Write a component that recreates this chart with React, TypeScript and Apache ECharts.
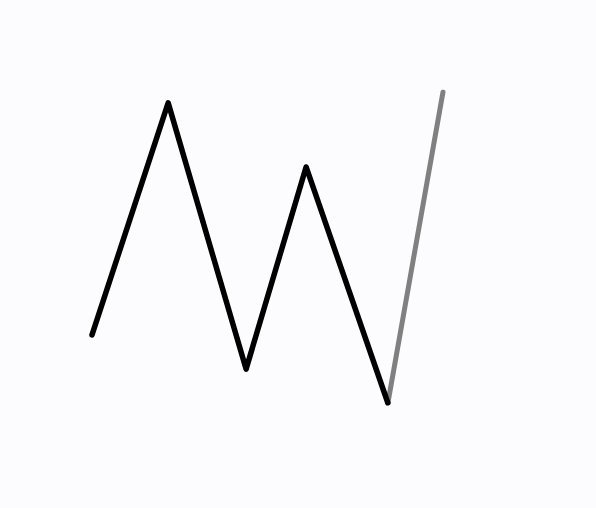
import { useEffect, useRef } from 'react'
import * as echarts from 'echarts'

// horizontal position of each vertex (0 = first point, 100 = last point)
const xValues = [0, 21.7, 43.9, 61.0, 84.3, 100]
// vertical value of each vertex (0 = lowest vertex, 100 = highest)
const yValues = [21.9, 96.5, 10.9, 75.9, 0, 100]
// the last segment is drawn in grey
const greyFrom = 4

export default function App() {
  const chartRef = useRef<HTMLDivElement>(null)

  useEffect(() => {
    if (!chartRef.current) return
    document.body.style.margin = '0'
    const chart = echarts.init(chartRef.current, null, { renderer: 'svg' })

    const points = xValues.map((x, i) => [x, yValues[i]])
    const blackPart = points.slice(0, greyFrom + 1)
    const greyPart = points.slice(greyFrom)

    chart.setOption({
      animation: false,
      backgroundColor: '#fcfcfe',
      grid: { left: 92, right: 153, top: 92, bottom: 105 },
      xAxis: { type: 'value', min: 0, max: 100, show: false },
      yAxis: { type: 'value', min: 0, max: 100, show: false },
      series: [
        {
          type: 'line',
          data: blackPart,
          showSymbol: false,
          silent: true,
          lineStyle: { color: '#000000', width: 5.5, cap: 'round', join: 'round' },
        },
        {
          type: 'line',
          data: greyPart,
          showSymbol: false,
          silent: true,
          z: 1,
          lineStyle: { color: '#808080', width: 5, cap: 'round', join: 'round' },
        },
      ],
    })

    return () => {
      chart.dispose()
    }
  }, [])

  return <div ref={chartRef} style={{ width: '596px', height: '508px' }}></div>
}
